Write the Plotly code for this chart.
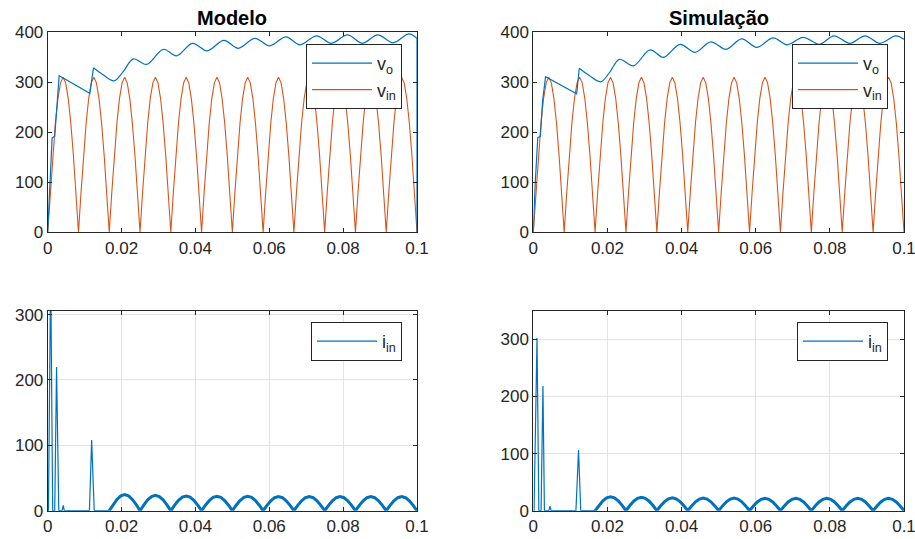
import numpy as np
import plotly.graph_objects as go

# ---------------- data ----------------
# v_in : full-wave rectified mains (same in both plots), sampled on a uniform grid 0..0.1 s
V_IN = [0,
        80, 155, 219, 268, 299, 310, 299, 268, 219, 155, 80, 0,
        80, 155, 219, 268, 299, 310, 299, 268, 219, 155, 80, 0,
        80, 155, 219, 268, 299, 310, 299, 268, 219, 155, 80, 0,
        80, 155, 219, 268, 299, 310, 299, 268, 219, 155, 80, 0,
        80, 155, 219, 268, 299, 310, 299, 268, 219, 155, 80, 0,
        80, 155, 219, 268, 299, 310, 299, 268, 219, 155, 80, 0,
        80, 155, 219, 268, 299, 310, 299, 268, 219, 155, 80, 0,
        80, 155, 219, 268, 299, 310, 299, 268, 219, 155, 80, 0,
        80, 155, 219, 268, 299, 310, 299, 268, 219, 155, 80, 0,
        80, 155, 219, 268, 299, 310, 299, 268, 219, 155, 80, 0,
        80, 155, 219, 268, 299, 310, 299, 268, 219, 155, 80, 0,
        80, 155, 219, 268, 299, 310, 299, 268, 219, 155, 80, 0]
T_VIN = np.linspace(0.0, 0.1, len(V_IN))

# v_o  (Modelo)
VO_EARLY_T_M = [0, 0.0005, 0.0012, 0.0019, 0.0025, 0.0031, 0.0114, 0.0124, None, 0.1, 0.1]
VO_EARLY_M = [0, 95, 189, 192, 262, 313, 278, 329, None, 388, 0]
VO_RIP_T_M = [0.0124, 0.0150, 0.0180, 0.0205, 0.0232, 0.0268, 0.0313, 0.0349, 0.0392, 0.0432,
              0.0477, 0.0516, 0.0561, 0.0601, 0.0645, 0.0683, 0.0728, 0.0768, 0.0812, 0.0852,
              0.0894, 0.0935, 0.0978, 0.1]
VO_RIP_M = [329, 315, 303, 322, 347, 336, 366, 353, 378, 363,
            384, 368, 388, 373, 391, 375, 393, 378, 395, 378,
            395, 379, 397, 388]

# v_o  (Simulação)
VO_EARLY_T_S = [0, 0.0005, 0.0012, 0.0019, 0.0025, 0.0033, 0.0117, 0.0124]
VO_EARLY_S = [0, 95, 189, 192, 262, 311, 277, 328]
VO_RIP_T_S = [0.0124, 0.0150, 0.0182, 0.0207, 0.0232, 0.0270, 0.0315, 0.0351, 0.0396, 0.0436,
              0.0479, 0.0520, 0.0562, 0.0603, 0.0647, 0.0685, 0.0728, 0.0772, 0.0811, 0.0854,
              0.0895, 0.0935, 0.0978, 0.1]
VO_RIP_S = [328, 314, 301, 321, 346, 333, 365, 350, 376, 360,
            381, 366, 387, 370, 389, 375, 390, 376, 393, 378,
            393, 378, 393, 386]

# i_in start-up spikes
IIN_SP_T_M = [0, 0.0002, 0.0007, 0.0009, 0.00135, 0.0019, 0.0024, 0.0030, 0.0039, 0.0042, 0.0045,
              0.0113, 0.0119, 0.0126, 0.01667]
IIN_SP_M = [0, 0, 306, 306, 0, 0, 220, 0, 0, 8, 0, 0, 108, 0, 0]
IIN_SP_T_S = [0, 0.0002, 0.0010, 0.0015, 0.0021, 0.0026, 0.0030, 0.0042, 0.0045, 0.0048,
              0.0115, 0.0122, 0.0128, 0.01667]
IIN_SP_S = [0, 0, 302, 0, 0, 218, 0, 0, 8, 0, 0, 106, 0, 0]

# i_in steady-state humps (from 0.01667 s to 0.1 s), same in both plots
IIN_HUMP = [0,
            9.4, 17.3, 22.6, 24.5, 22.6, 17.3, 9.4, 0,
            9.0, 16.6, 21.7, 23.5, 21.7, 16.6, 9.0, 0,
            8.6, 15.9, 20.8, 22.5, 20.8, 15.9, 8.6, 0,
            8.4, 15.6, 20.3, 22.0, 20.3, 15.6, 8.4, 0,
            8.4, 15.6, 20.3, 22.0, 20.3, 15.6, 8.4, 0,
            8.2, 15.2, 19.9, 21.5, 19.9, 15.2, 8.2, 0,
            8.2, 15.2, 19.9, 21.5, 19.9, 15.2, 8.2, 0,
            8.2, 15.2, 19.9, 21.5, 19.9, 15.2, 8.2, 0,
            8.2, 15.2, 19.9, 21.5, 19.9, 15.2, 8.2, 0,
            8.2, 15.2, 19.9, 21.5, 19.9, 15.2, 8.2, 0]
T_HUMP = np.linspace(0.01667, 0.1, len(IIN_HUMP))

X_TICKS = [0, 0.02, 0.04, 0.06, 0.08, 0.1]
X_TICKTEXT = ["0", "0.02", "0.04", "0.06", "0.08", "0.1"]
TITLES = ["Modelo", "Simulação"]

# ---------------- style ----------------
BLUE = "#0072BD"
ORANGE = "#D95319"
AX = "#262626"
GRID = "#e3e3e3"
FONT = "Liberation Sans"
W, H = 915, 539

fig = go.Figure()

def px_dom_x(a, b):
    return [a / W, b / W]

def px_dom_y(top, bottom):
    return [(H - bottom) / H, (H - top) / H]

# top-left
fig.add_trace(go.Scatter(x=T_VIN, y=V_IN, mode="lines", line=dict(color=ORANGE, width=1.1),
                         name="v<sub>in</sub>", xaxis="x", yaxis="y", legend="legend", legendrank=2))
fig.add_trace(go.Scatter(x=VO_EARLY_T_M, y=VO_EARLY_M, mode="lines", line=dict(color=BLUE, width=1.2),
                         name="v<sub>o</sub>", legendgroup="vo1", xaxis="x", yaxis="y", legend="legend",
                         legendrank=1, connectgaps=False))
fig.add_trace(go.Scatter(x=VO_RIP_T_M, y=VO_RIP_M, mode="lines", line=dict(color=BLUE, width=1.2, shape="spline"),
                         name="v<sub>o</sub>", legendgroup="vo1", showlegend=False, xaxis="x", yaxis="y"))
# top-right
fig.add_trace(go.Scatter(x=T_VIN, y=V_IN, mode="lines", line=dict(color=ORANGE, width=1.1),
                         name="v<sub>in</sub>", xaxis="x2", yaxis="y2", legend="legend2", legendrank=2))
fig.add_trace(go.Scatter(x=VO_EARLY_T_S, y=VO_EARLY_S, mode="lines", line=dict(color=BLUE, width=1.2),
                         name="v<sub>o</sub>", legendgroup="vo2", xaxis="x2", yaxis="y2", legend="legend2",
                         legendrank=1))
fig.add_trace(go.Scatter(x=VO_RIP_T_S, y=VO_RIP_S, mode="lines", line=dict(color=BLUE, width=1.2, shape="spline"),
                         name="v<sub>o</sub>", legendgroup="vo2", showlegend=False, xaxis="x2", yaxis="y2"))
# bottom-left
fig.add_trace(go.Scatter(x=IIN_SP_T_M, y=IIN_SP_M, mode="lines", line=dict(color=BLUE, width=1.2),
                         name="i<sub>in</sub>", legendgroup="i1", xaxis="x3", yaxis="y3", legend="legend3"))
fig.add_trace(go.Scatter(x=T_HUMP, y=IIN_HUMP, mode="lines", line=dict(color=BLUE, width=3),
                         name="i<sub>in</sub>", legendgroup="i1", showlegend=False, xaxis="x3", yaxis="y3"))
# bottom-right
fig.add_trace(go.Scatter(x=IIN_SP_T_S, y=IIN_SP_S, mode="lines", line=dict(color=BLUE, width=1.2),
                         name="i<sub>in</sub>", legendgroup="i2", xaxis="x4", yaxis="y4", legend="legend4"))
fig.add_trace(go.Scatter(x=T_HUMP, y=IIN_HUMP, mode="lines", line=dict(color=BLUE, width=3),
                         name="i<sub>in</sub>", legendgroup="i2", showlegend=False, xaxis="x4", yaxis="y4"))

tickfont = dict(family=FONT, size=17, color=AX)

def xax(dom, anchor, grid):
    return dict(domain=dom, anchor=anchor, range=[0, 0.1], tickvals=X_TICKS, ticktext=X_TICKTEXT,
                ticks="inside", ticklen=4, tickcolor=AX, showline=True, linecolor=AX, linewidth=1,
                mirror="ticks", showgrid=grid, gridcolor=GRID, zeroline=False, tickfont=tickfont,
                automargin=False, ticklabeloverflow="allow")

def yax(dom, anchor, rng, grid):
    return dict(domain=dom, anchor=anchor, range=rng, dtick=100, tick0=0,
                ticks="inside", ticklen=4, tickcolor=AX, showline=True, linecolor=AX, linewidth=1,
                mirror="ticks", showgrid=grid, gridcolor=GRID, zeroline=False, tickfont=tickfont,
                automargin=False, ticklabeloverflow="allow")

XL = px_dom_x(47.7, 417.0)
XR = px_dom_x(533.3, 904.0)
YT = px_dom_y(32.3, 232.3)
YB = px_dom_y(310.7, 510.7)

def leg(right_px, top_px):
    return dict(x=right_px / W, y=(H - top_px) / H, xanchor="right", yanchor="top",
                bgcolor="white", bordercolor=AX, borderwidth=1,
                font=dict(family=FONT, size=18, color=AX), itemwidth=60,
                tracegroupgap=0)

fig.update_layout(
    width=W, height=H, margin=dict(l=0, r=0, t=0, b=0, autoexpand=False),
    paper_bgcolor="white", plot_bgcolor="white",
    xaxis=xax(XL, "y", False), yaxis=yax(YT, "x", [0, 400], False),
    xaxis2=xax(XR, "y2", False), yaxis2=yax(YT, "x2", [0, 400], False),
    xaxis3=xax(XL, "y3", True), yaxis3=yax(YB, "x3", [0, 306], True),
    xaxis4=xax(XR, "y4", True), yaxis4=yax(YB, "x4", [0, 350], True),
    legend=leg(402, 44), legend2=leg(888, 44), legend3=leg(402, 322), legend4=leg(888, 322),
    showlegend=True,
)

for i, title in enumerate(TITLES):
    dom = XL if i == 0 else XR
    fig.add_annotation(text="<b>" + title + "</b>", x=(dom[0] + dom[1]) / 2, y=1 - 18 / H,
                       xref="paper", yref="paper", xanchor="center", yanchor="middle",
                       showarrow=False, font=dict(family=FONT, size=20, color="black"))

fig.write_html("out.html")
